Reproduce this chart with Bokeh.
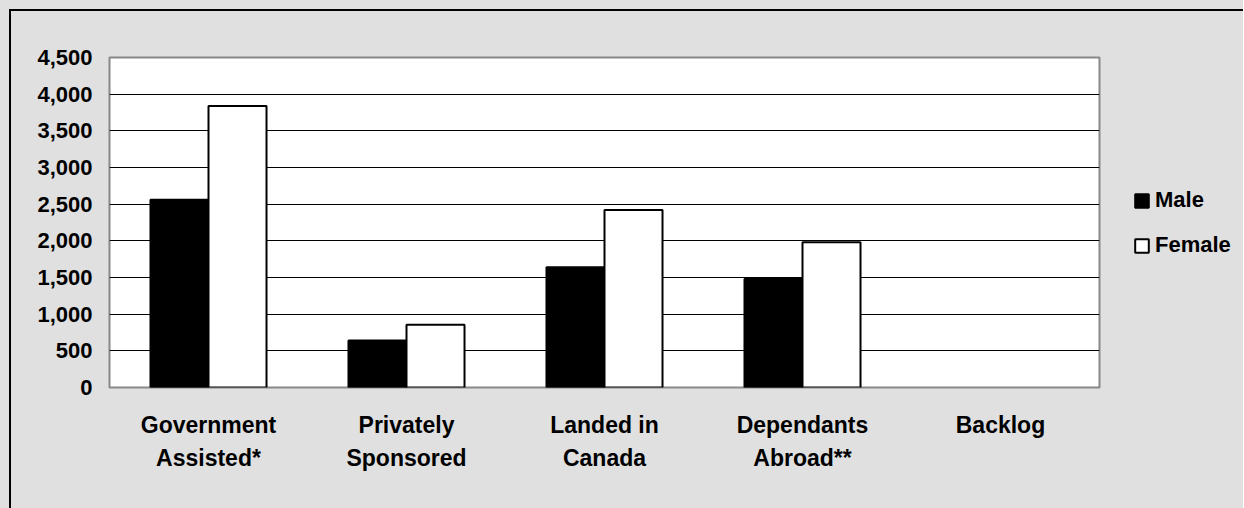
from bokeh.plotting import figure
from bokeh.layouts import row
from bokeh.models import (FactorRange, Range1d, ColumnDataSource, Legend, LegendItem,
                          NumeralTickFormatter, SingleIntervalTicker, InlineStyleSheet)
from bokeh.transform import dodge
from bokeh.embed import file_html
from bokeh.resources import INLINE

categories = ["Government\nAssisted*", "Privately\nSponsored", "Landed in\nCanada",
              "Dependants\nAbroad**", "Backlog"]
male = [2560, 640, 1640, 1480, float("nan")]
female = [3840, 855, 2420, 1980, float("nan")]
series = ["Male", "Female"]
y_max = 4500
y_step = 500

FONT = "Liberation Sans"
BG = "#e0e0e0"

src = ColumnDataSource(dict(cat=categories, male=male, female=female))

def frame_css(left):
    side = "border-left: 2px solid black;" if left else ""
    return InlineStyleSheet(css=f"""
:host {{ position: relative; background-color: {BG}; }}
:host::after {{
  content: ""; position: absolute; left: {9 if left else -2}px; top: 9px; right: 0; bottom: 0;
  {side} border-top: 2px solid black;
  pointer-events: none; z-index: 100;
}}
""")

p = figure(x_range=FactorRange(*categories, range_padding=0),
           y_range=Range1d(0, y_max),
           frame_width=990, frame_height=330,
           output_backend="svg", toolbar_location=None,
           min_border_left=109, min_border_top=57, min_border_right=4, min_border_bottom=121)
p.stylesheets = [frame_css(True)]

p.background_fill_color = "white"
p.border_fill_color = BG
p.outline_line_color = "#888888"
p.outline_line_width = 2

bw = 0.293
p.vbar(x=dodge("cat", -bw / 2, range=p.x_range), top="male", width=bw, source=src,
       fill_color="black", line_color="black", line_width=2)
p.vbar(x=dodge("cat", bw / 2, range=p.x_range), top="female", width=bw, source=src,
       fill_color="white", line_color="black", line_width=2)

p.xgrid.grid_line_color = None
p.ygrid.grid_line_color = "black"
p.ygrid.grid_line_width = 1

p.yaxis.ticker = SingleIntervalTicker(interval=y_step)
p.yaxis.formatter = NumeralTickFormatter(format="0,0")
for ax in (p.xaxis[0], p.yaxis[0]):
    ax.axis_line_color = None
    ax.major_tick_line_color = None
    ax.minor_tick_line_color = None
    ax.major_tick_out = 0
    ax.major_tick_in = 0
    ax.major_label_text_font = FONT
    ax.major_label_text_font_style = "bold"
    ax.major_label_text_color = "black"
p.yaxis.major_label_text_font_size = "22px"
p.xaxis.major_label_text_font_size = "23px"
p.yaxis.major_label_standoff = 13
p.xaxis.major_label_standoff = 24
p.xaxis.major_label_text_line_height = 1.3

# legend panel (its swatch renderers hold no drawable point, so only the legend shows)
lg = figure(width=140, height=508, x_range=(0, 1), y_range=(0, 1),
            x_axis_type=None, y_axis_type=None, min_border=0,
            output_backend="svg", toolbar_location=None)
lg.stylesheets = [frame_css(False)]
lg.background_fill_color = BG
lg.border_fill_color = BG
lg.outline_line_color = None
swatch = ColumnDataSource(dict(x=[float("nan")], top=[float("nan")]))
lm = lg.vbar(x="x", top="top", width=0.1, source=swatch,
             fill_color="black", line_color="black", line_width=2)
lf = lg.vbar(x="x", top="top", width=0.1, source=swatch,
             fill_color="white", line_color="black", line_width=2)

legend = Legend(items=[LegendItem(label=series[0], renderers=[lm]),
                       LegendItem(label=series[1], renderers=[lf])],
                location=(30, 129),
                background_fill_alpha=0, border_line_color=None,
                padding=5, margin=0, spacing=19,
                glyph_width=17, glyph_height=17, label_height=24, label_standoff=5,
                label_text_font=FONT, label_text_font_style="bold",
                label_text_font_size="22px", label_text_color="black")
lg.add_layout(legend)

layout = row(p, lg, spacing=0)
layout.styles = {"background-color": BG}
open("out.html", "w").write(file_html(layout, INLINE))
